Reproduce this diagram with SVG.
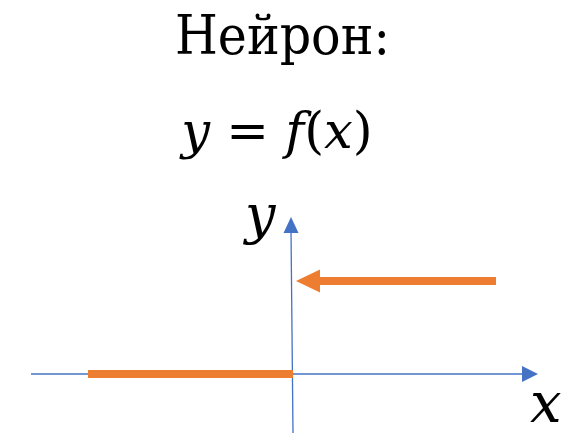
<svg xmlns="http://www.w3.org/2000/svg" width="582" height="435" viewBox="0 0 582 435">
<defs>
<style>
text{font-family:'DejaVu Serif','Liberation Serif',serif;fill:#000}
.i{font-style:italic}
.axis{stroke:#4472C4;stroke-width:1.3;fill:none}
.or{stroke:#ED7D31;stroke-width:8;fill:none}
</style>
</defs>
<g id="title">
<text x="175" y="54" font-size="54" textLength="215" lengthAdjust="spacingAndGlyphs">Нейрон:</text>
</g>
<g id="formula">
<text x="277" y="148" font-size="51" text-anchor="middle"><tspan class="i">y</tspan> = <tspan class="i">f</tspan>(<tspan class="i">x</tspan>)</text>
</g>
<g id="axes">
<line class="axis" x1="31" y1="374" x2="523" y2="374"/>
<polygon points="538,374 522,366 522,382" fill="#4472C4"/>
<line class="axis" x1="293" y1="433" x2="291" y2="230"/>
<polygon points="291,217 283.5,233 298.5,233" fill="#4472C4"/>
<text class="i" x="245" y="233" font-size="54">y</text>
<text class="i" x="530" y="422" font-size="56">x</text>
</g>
<g id="connectors">
<line class="or" x1="88" y1="374" x2="293" y2="374"/>
<line class="or" x1="318" y1="281" x2="496" y2="281"/>
<polygon points="296,281 320,269.5 320,292.5" fill="#ED7D31"/>
</g>
</svg>
